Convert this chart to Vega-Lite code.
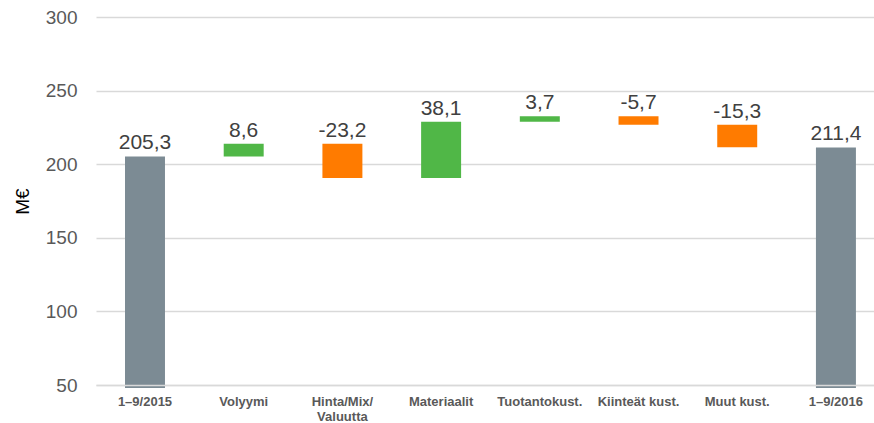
{
  "$schema": "https://vega.github.io/schema/vega-lite/v6.json",
  "width": 778,
  "height": 368,
  "autosize": {"type": "none"},
  "padding": {"left": 96, "top": 17, "right": 0, "bottom": 38},
  "background": "white",
  "config": {"view": {"stroke": null}, "font": "Liberation Sans"},
  "data": {
    "values": [
      {"cat": "1–9/2015", "lo": 48, "hi": 205.3, "label": "205,3", "type": "total"},
      {"cat": "Volyymi", "lo": 205.3, "hi": 213.9, "label": "8,6", "type": "up"},
      {"cat": "Hinta/Mix/Valuutta", "lo": 190.7, "hi": 213.9, "label": "-23,2", "type": "down"},
      {"cat": "Materiaalit", "lo": 190.7, "hi": 228.8, "label": "38,1", "type": "up"},
      {"cat": "Tuotantokust.", "lo": 228.8, "hi": 232.5, "label": "3,7", "type": "up"},
      {"cat": "Kiinteät kust.", "lo": 226.8, "hi": 232.5, "label": "-5,7", "type": "down"},
      {"cat": "Muut kust.", "lo": 211.5, "hi": 226.8, "label": "-15,3", "type": "down"},
      {"cat": "1–9/2016", "lo": 48, "hi": 211.4, "label": "211,4", "type": "total"}
    ]
  },
  "encoding": {
    "x": {
      "field": "cat",
      "type": "nominal",
      "sort": null,
      "scale": {"paddingInner": 0.595, "paddingOuter": 0.2385, "align": 0.616},
      "axis": {
        "title": null,
        "labelAngle": 0,
        "labelFont": "Liberation Sans",
        "labelFontSize": 13,
        "labelFontWeight": "bold",
        "labelColor": "#595959",
        "labelPadding": 10,
        "labelLineHeight": 15,
        "labelExpr": "datum.label == 'Hinta/Mix/Valuutta' ? ['Hinta/Mix/', 'Valuutta'] : datum.label",
        "ticks": false,
        "domain": true,
        "domainColor": "#d9d9d9",
        "domainWidth": 1.5,
        "grid": false,
        "zindex": 1
      }
    }
  },
  "layer": [
    {
      "mark": {"type": "bar", "clip": false},
      "encoding": {
        "y": {
          "field": "lo",
          "type": "quantitative",
          "scale": {"domain": [50, 300], "zero": false, "nice": false},
          "axis": {
            "title": "M€",
            "titleFont": "Liberation Sans",
            "titleFontSize": 19,
            "titleFontWeight": "normal",
            "titleColor": "#000000",
            "titleAngle": -90,
            "titleX": -74,
            "titleY": 184,
            "titleAlign": "center",
            "titleBaseline": "middle",
            "values": [50, 100, 150, 200, 250, 300],
            "labelFont": "Liberation Sans",
            "labelFontSize": 19,
            "labelColor": "#595959",
            "labelPadding": 19,
            "ticks": false,
            "domain": false,
            "grid": true,
            "gridColor": "#d9d9d9",
            "gridWidth": 1.5
          }
        },
        "y2": {"field": "hi"},
        "color": {
          "field": "type",
          "type": "nominal",
          "scale": {"domain": ["total", "up", "down"], "range": ["#7c8b94", "#50b747", "#ff7b00"]},
          "legend": null
        }
      }
    },
    {
      "mark": {"type": "text", "align": "center", "baseline": "alphabetic", "dy": -7, "fontSize": 21, "color": "#404040", "font": "Liberation Sans"},
      "encoding": {
        "y": {"field": "hi", "type": "quantitative"},
        "text": {"field": "label", "type": "nominal"}
      }
    }
  ]
}
